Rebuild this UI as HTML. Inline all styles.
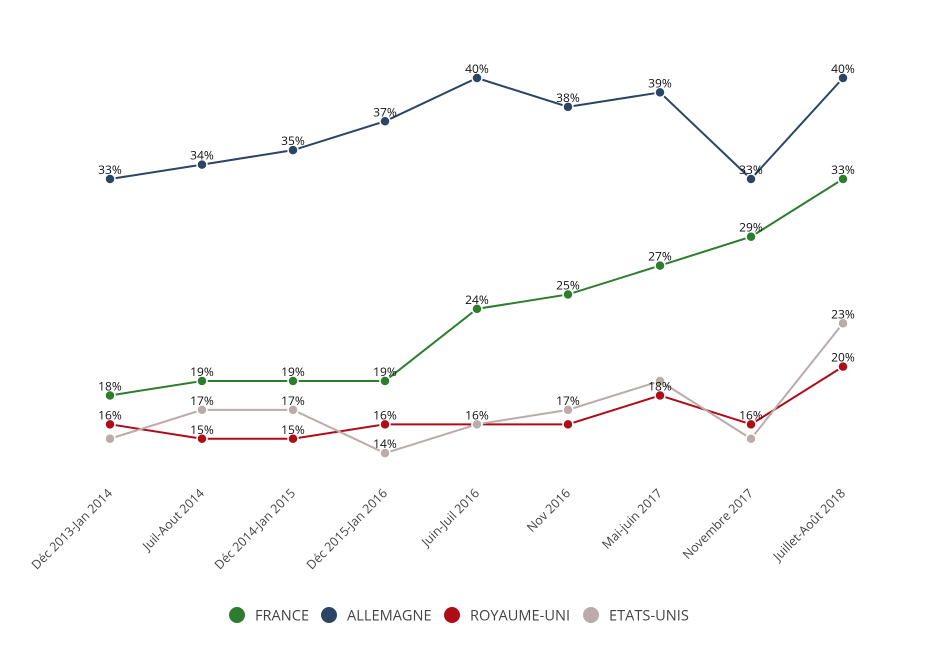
<!DOCTYPE html>
<html><head><meta charset="utf-8"><style>body{margin:0;background:#fff}svg{display:block;font-family:"Open Sans","Liberation Sans",sans-serif}</style></head><body>
<svg width="930" height="657" xmlns="http://www.w3.org/2000/svg">
<g id="g"></g>
</svg>
<script>
const xs=[110,202,293,385,477,568,660,751,843];
const Y=v=>655.2-14.43*v;
const series=[
 ["#2e7d2e",[18,19,19,19,24,25,27,29,33],[1,1,1,1,1,1,1,1,1]],
 ["#2b4566",[33,34,35,37,40,38,39,33,40],[1,1,1,1,1,1,1,1,1]],
 ["#b00c18",[16,15,15,16,16,16,18,16,20],[1,1,1,1,1,0,1,1,1]],
 ["#bbabab",[15,17,17,14,16,17,19,15,23],[0,1,1,1,0,1,0,0,1]]
];
const ns="http://www.w3.org/2000/svg";const g=document.getElementById('g');
function el(t,a,txt){const e=document.createElementNS(ns,t);for(const k in a)e.setAttribute(k,a[k]);if(txt)e.textContent=txt;g.appendChild(e);return e;}
series.forEach(([c,d])=>{el('polyline',{points:d.map((v,i)=>xs[i]+','+Y(v)).join(' '),fill:'none',stroke:c,'stroke-width':2});});
series.forEach(([c,d])=>{d.forEach((v,i)=>el('circle',{cx:xs[i],cy:Y(v),r:5,fill:c,stroke:'#fff','stroke-width':1.5}));});
series.forEach(([c,d,l])=>{d.forEach((v,i)=>{if(l[i])el('text',{x:xs[i],y:Y(v)-5,'text-anchor':'middle','font-size':12,fill:'#111'},v+'%');});});
const labs=["Déc 2013-Jan 2014","Juil-Aout 2014","Déc 2014-Jan 2015","Déc 2015-Jan 2016","Juin-Juil 2016","Nov 2016","Mai-juin 2017","Novembre 2017","Juillet-Août 2018"];
labs.forEach((t,i)=>el('text',{x:xs[i]+3,y:494,'text-anchor':'end','font-size':12.5,fill:'#444',transform:`rotate(-45 ${xs[i]+3} 494)`},t));
const leg=[["FRANCE","#2e7d2e",237],["ALLEMAGNE","#2b4566",329],["ROYAUME-UNI","#b00c18",452],["ETATS-UNIS","#bbabab",591]];
leg.forEach(([t,c,x])=>{el('circle',{cx:x,cy:615,r:8,fill:c});el('text',{x:x+18,y:620.5,'font-size':14.6,fill:'#444'},t);});
</script>
</body></html>
